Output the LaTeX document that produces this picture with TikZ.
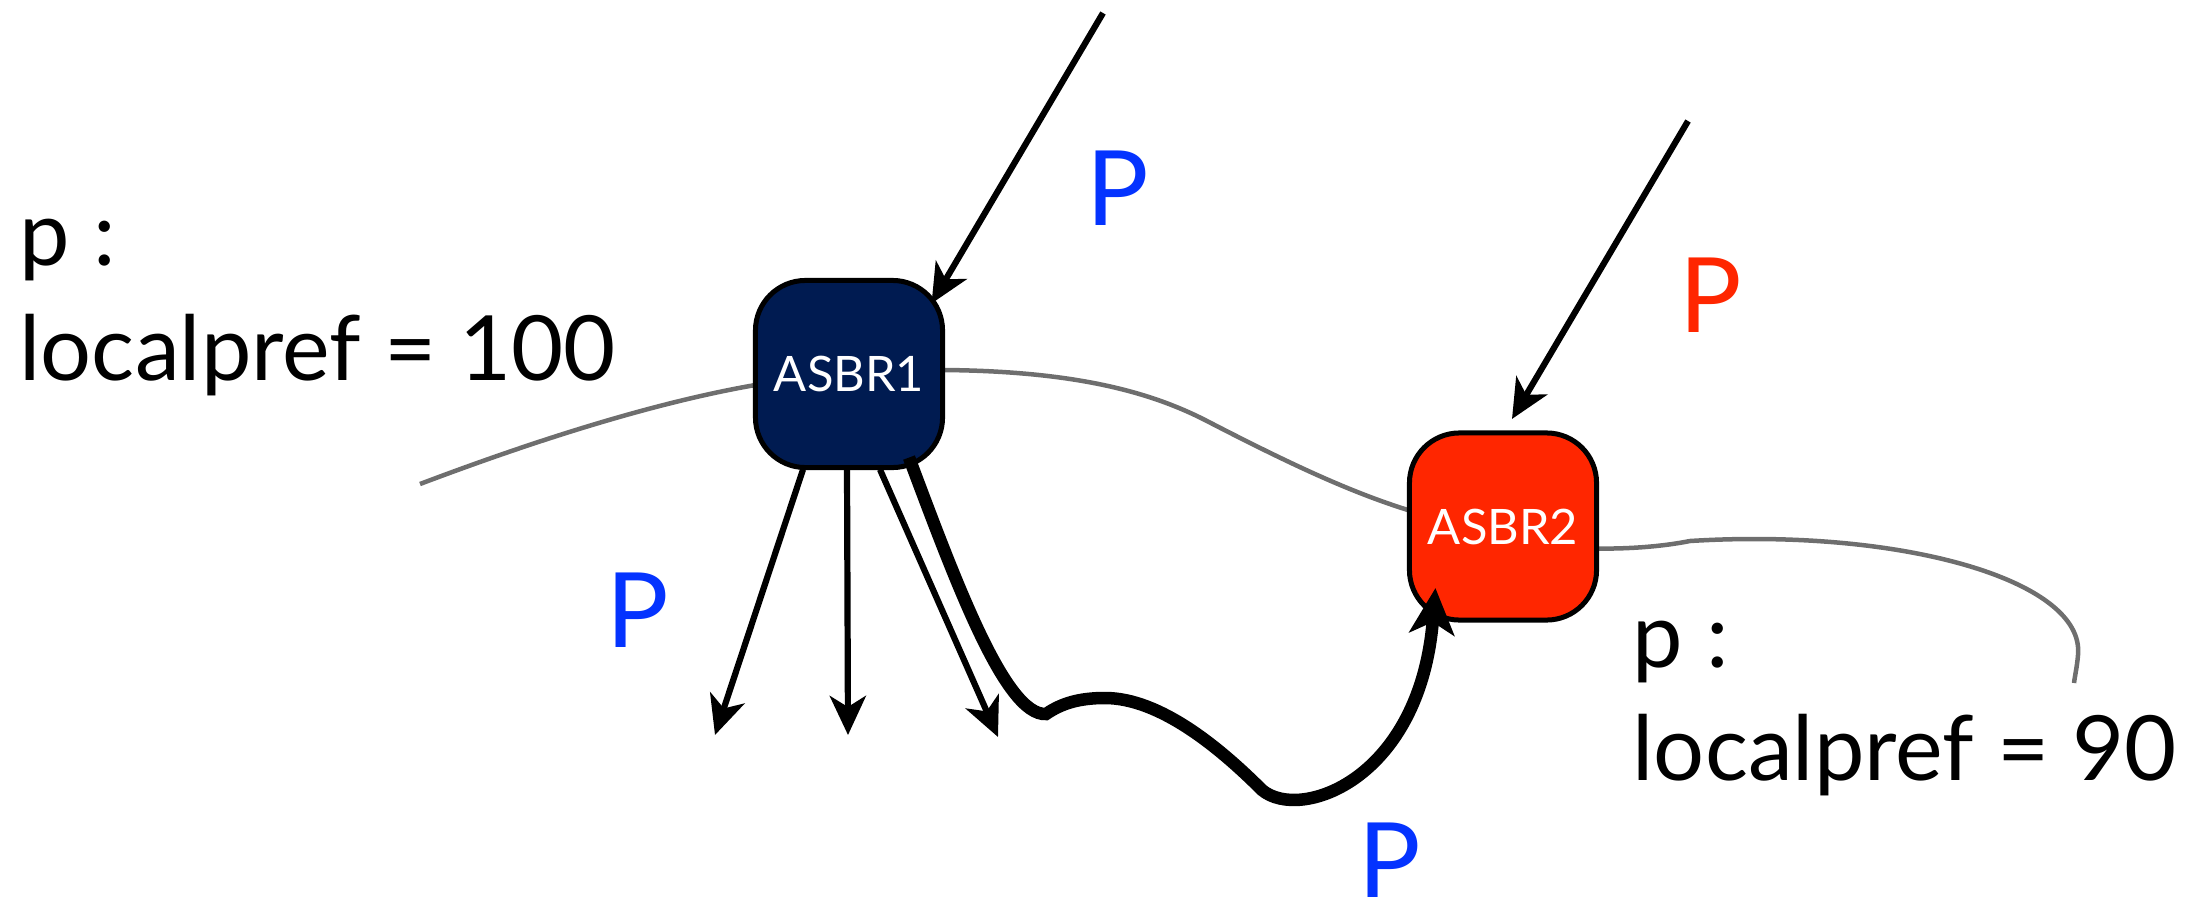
\documentclass[tikz,border=0pt]{standalone}
\usepackage{fontspec}
\setmainfont{Lato}
\usetikzlibrary{arrows.meta,calc,backgrounds}
\definecolor{navybox}{RGB}{0,27,81}
\definecolor{redbox}{RGB}{255,38,0}
\definecolor{pblue}{RGB}{4,51,255}
\definecolor{linkgray}{RGB}{110,110,110}
\begin{document}
\begin{tikzpicture}[x=0.01cm,y=-0.01cm,
  router/.style={draw=black, line width=0.05cm, rounded corners=0.5cm,
    minimum width=1.87cm, minimum height=1.87cm, inner sep=0pt, outer sep=0pt,
    text=white, font=\fontsize{13.9}{16}\selectfont},
  link/.style={draw=linkgray, line width=0.045cm},
  arr/.style={draw=black, line width=0.062cm,
    -{Stealth[length=0.39cm,width=0.36cm,inset=0.11cm]}},
  bigarr/.style={draw=black, line width=0.125cm,
    -{Stealth[length=0.46cm,width=0.45cm,inset=0.12cm]}},
  info/.style={anchor=base west, inner sep=0pt, font=\fontsize{25.6}{30}\selectfont},
  plabel/.style={anchor=base west, inner sep=0pt, font=\fontsize{29.6}{34}\selectfont}]

\useasboundingbox (0,0) rectangle (2206,912);

% routers
\node[router, fill=navybox] (a1) at (849,374) {ASBR1};
\node[router, fill=redbox]  (a2) at (1503,526.5) {ASBR2};

% free ends of the links and arrows
\coordinate (g0) at (420,484);
\coordinate (g1) at ($(a1.west)+(0,11)$);
\coordinate (g2) at ($(a1.east)+(0,-4)$);
\coordinate (g3) at ($(a2.west)+(0,-16)$);
\coordinate (g4) at ($(a2.east)+(0,22)$);
\coordinate (g5) at (2074,683);

\coordinate (s1) at (1103,13);
\coordinate (s2) at (1688,121);
\coordinate (d1) at (715,735);
\coordinate (d2) at (848,735);
\coordinate (d3) at (998,737);

% AS border (gray curve)
\begin{scope}[on background layer]
  \draw[link] (g0) .. controls (510,450) and (640,405) .. (g1);
  \draw[link] (g2) .. controls (1075,371) and (1150,392) .. (1205,420)
                   .. controls (1290,464) and (1350,492) .. (g3);
  \draw[link] (g4) .. controls (1625,549) and (1660,547) .. (1690,541)
                   .. controls (1900,528) and (2085,580) .. (2078,655)
                   .. controls (2077,667) and (2075,675) .. (g5);
\end{scope}

% incoming announcements
\draw[arr] (s1) -- ($(a1.north east)+(-11,23)$);
\draw[arr] (s2) -- ($(a2.north)+(9,-14)$);

% announcements sent inside the AS
\draw[arr] ($(a1.south)+(-46,2)$) -- (d1);
\draw[arr] ($(a1.south)+(-2,2)$) -- (d2);
\draw[arr] ($(a1.south)+(31,2)$) -- (d3);

% path from ASBR1 to ASBR2
\draw[bigarr] ($(a1.south)+(60,-10)$)
  .. controls (955,580) and (1005,716) .. (1046,714)
  .. controls (1062,703) and (1080,698) .. (1105,698)
  .. controls (1160,698) and (1220,748) .. (1262,790)
  .. controls (1300,822) and (1420,780) .. ($(a2.south west)+(26,-32)$);

% labels
\node[info] (l1a) at (19,265) {p :};
\node[info] (l1b) at (19,380) {localpref = 100};
\node[info] (l2a) at (1632,667) {p :};
\node[info] (l2b) at (1632,780) {localpref = 90};

\node[plabel, text=pblue] (p1) at (1086,225) {P};
\node[plabel, text=redbox] (p2) at (1679,332) {P};
\node[plabel, text=pblue] (p3) at (606,647) {P};
\node[plabel, text=pblue] (p4) at (1358,897) {P};
\end{tikzpicture}
\end{document}
